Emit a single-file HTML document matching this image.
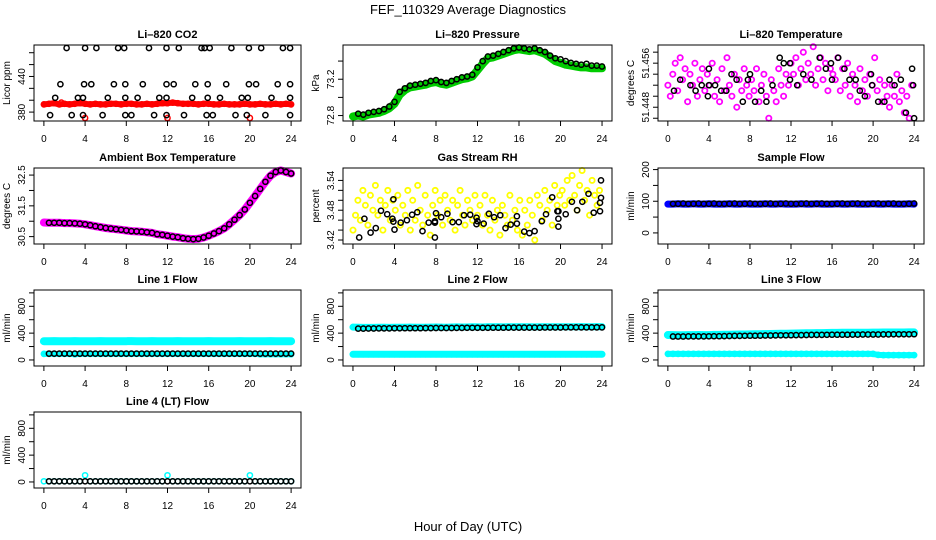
<!DOCTYPE html>
<html><head><meta charset="utf-8"><style>
html,body{margin:0;padding:0;background:#fff;}
svg{display:block;font-family:"Liberation Sans",sans-serif;}
</style></head><body>
<svg id="chart" width="936" height="540" viewBox="0 0 936 540" xmlns="http://www.w3.org/2000/svg">
<rect width="936" height="540" fill="#fff"/>
<text x="468" y="14" text-anchor="middle" font-size="13">FEF_110329  Average Diagnostics</text>
<text x="468" y="531" text-anchor="middle" font-size="13">Hour of Day (UTC)</text>
</svg>
<script>
// ---- data ----
const xTicks = [0,4,8,12,16,20,24];
const co2Red = [393,394,395,393,394,393,394,395,394,393,394,393,393,394,394,393,394,394,393,393,394,393,394,395,395,396,395,394,394,394,393,394,394,393,393,394,393,393,393,394,393,393,394,393,393,394,393,394,393];
const co2RedOutT = [1.7,4,12,20];
const co2RedOutV = [396,370,370,370];
const co2BlackT = [2.2,4.0,5.1,7.2,7.8,10.2,11.9,13.1,15.3,15.6,16.1,18.2,19.9,21.1,23.2,23.9, 1.6,3.9,4.6,6.8,7.9,9.6,11.9,12.6,14.7,15.9,17.7,19.9,20.6,22.7,23.9, 1.1,3.3,3.8,6.2,7.9,9.1,11.2,11.9,14.4,15.9,17.1,19.2,19.8,22.1,23.9, 0.6,2.7,3.8,5.7,7.9,8.5,10.7,11.9,13.6,15.8,16.4,18.6,19.7,21.5,23.9];
const co2BlackV = [488,488,488,488,488,488,488,488,488,488,488,488,488,488,488,488, 427,427,427,427,427,427,427,427,427,427,427,427,427,427,427, 404,404,404,404,404,404,404,404,404,404,404,404,404,404,404, 375,375,375,375,375,375,375,375,375,375,375,375,375,375,375];
const co2Ticks = [380,400,420,440,460,480];
const co2Labels = ["380","","","440","",""];

const presGreen = [72.79,72.80,72.79,72.81,72.82,72.83,72.85,72.88,72.93,73.03,73.08,73.11,73.12,73.13,73.14,73.16,73.17,73.15,73.14,73.16,73.18,73.20,73.21,73.23,73.30,73.37,73.43,73.44,73.46,73.48,73.50,73.52,73.53,73.52,73.51,73.52,73.50,73.48,73.44,73.40,73.38,73.36,73.35,73.34,73.33,73.33,73.32,73.32,73.32];
const presBlack = [72.82,72.81,72.83,72.84,72.85,72.87,72.90,72.95,73.06,73.10,73.13,73.14,73.15,73.16,73.18,73.19,73.17,73.16,73.18,73.20,73.22,73.23,73.25,73.33,73.40,73.45,73.46,73.48,73.50,73.52,73.54,73.55,73.54,73.53,73.54,73.52,73.50,73.46,73.43,73.42,73.40,73.38,73.37,73.36,73.37,73.35,73.35,73.34];
const presTicks = [72.8,73.0,73.2,73.4];
const presLabels = ["72.8","","73.2",""];

const tempMagenta = [51.452,51.450,51.454,51.456,51.451,51.457,51.453,51.455,51.449,51.454,51.452,51.456,51.450,51.453,51.455,51.451,51.454,
51.452,51.456,51.450,51.453,51.449,51.455,51.451,51.457,51.452,51.450,51.454,51.448,51.453,51.451,51.455,51.452,51.450,
51.453,51.451,51.455,51.449,51.452,51.454,51.450,51.446,51.453,51.451,51.449,51.455,51.452,51.450,51.454,51.452,51.456,
51.454,51.457,51.452,51.455,51.458,51.453,51.456,51.454,51.459,51.452,51.455,51.457,51.453,51.456,51.451,51.455,51.454,
51.453,51.457,51.451,51.455,51.452,51.456,51.450,51.454,51.452,51.449,51.455,51.451,51.453,51.450,51.454,51.452,
51.457,51.451,51.453,51.449,51.452,51.450,51.448,51.452,51.450,51.454,51.449,51.451,51.447,51.450,51.446,51.452];
const tempBlackT = [0.6,1.2,2.2,2.7,3.3,3.9,4,4,4.6,5.2,5.7,6.2,6.7,7.3,7.8,8,8.5,9.1,9.6,10.2,10.9,11.3,11.9,11.9,12.6,13.2,14,14.8,15.4,15.9,16,16.6,17.2,17.7,18.3,18.7,19.2,19.8,19.9,20.5,21.1,21.6,22.1,22.7,23.2,23.8,23.9,24];
const tempBlackV = [51.451,51.453,51.452,51.451,51.452,51.450,51.455,51.452,51.452,51.451,51.451,51.454,51.453,51.449,51.453,51.454,51.449,51.451,51.449,51.452,51.457,51.456,51.456,51.453,51.452,51.454,51.453,51.457,51.455,51.456,51.453,51.457,51.455,51.453,51.453,51.451,51.450,51.454,51.452,51.449,51.449,51.453,51.452,51.453,51.447,51.455,51.452,51.446];
const tempTicks = [51.446,51.448,51.450,51.452,51.454,51.456,51.458];
const tempLabels = ["","51.448","","","","51.456",""];

const ambMagenta = [30.96,30.95,30.95,30.95,30.94,30.94,30.93,30.92,30.9,30.87,30.84,30.81,30.78,30.76,30.74,30.72,30.7,30.68,30.67,30.66,30.64,30.62,30.58,30.56,30.53,30.5,30.48,30.45,30.43,30.42,30.43,30.47,30.53,30.6,30.68,30.77,30.9,31.05,31.2,31.38,31.6,31.82,32.05,32.28,32.48,32.6,32.65,32.6,32.55];
const ambBlack = [30.95,30.95,30.95,30.94,30.94,30.93,30.92,30.9,30.87,30.84,30.81,30.78,30.76,30.74,30.72,30.7,30.68,30.67,30.66,30.64,30.62,30.58,30.56,30.53,30.5,30.48,30.45,30.43,30.42,30.43,30.47,30.53,30.6,30.68,30.77,30.9,31.05,31.2,31.38,31.6,31.82,32.05,32.28,32.48,32.6,32.65,32.6,32.55];
const ambTicks = [30.5,31.0,31.5,32.0,32.5];
const ambLabels = ["30.5","","31.5","","32.5"];

const rhYellow = [3.44,3.47,3.50,3.46,3.52,3.49,3.45,3.51,3.48,3.53,3.47,3.50,3.44,3.49,3.52,3.46,3.50,
3.48,3.51,3.45,3.49,3.47,3.52,3.44,3.50,3.46,3.53,3.48,3.45,3.51,3.47,3.43,3.49,3.52,
3.47,3.50,3.45,3.51,3.48,3.46,3.50,3.44,3.49,3.52,3.47,3.45,3.50,3.48,3.46,3.51,3.47,
3.49,3.45,3.51,3.47,3.44,3.50,3.46,3.48,3.43,3.49,3.47,3.45,3.51,3.46,3.48,3.44,3.50,
3.43,3.48,3.45,3.50,3.47,3.42,3.51,3.49,3.46,3.52,3.48,3.50,3.45,3.53,3.49,3.51,
3.52,3.49,3.54,3.50,3.55,3.51,3.48,3.53,3.56,3.50,3.52,3.47,3.54,3.51,3.49,3.52];
const rhBlackT = [0.6,1.1,1.7,2.2,2.7,3.3,3.8,3.9,3.9,4,4.6,5.2,5.7,6.2,6.7,7.3,7.9,7.9,8,7.9,8.5,9.1,9.6,10.2,10.7,11.3,11.9,11.9,12,12.6,13.1,13.6,14.2,14.7,15.2,15.8,15.8,16.5,17,17.5,18.2,18.6,19.2,19.7,19.8,19.8,19.8,20.5,21.1,21.6,22.1,22.7,23.2,23.8,23.8,23.9,23.9];
const rhBlackV = [3.425,3.463,3.435,3.444,3.479,3.472,3.463,3.502,3.457,3.441,3.455,3.460,3.471,3.476,3.438,3.455,3.458,3.455,3.474,3.425,3.466,3.473,3.456,3.456,3.470,3.471,3.465,3.452,3.458,3.453,3.473,3.466,3.470,3.444,3.451,3.468,3.453,3.437,3.434,3.438,3.458,3.472,3.506,3.478,3.478,3.463,3.447,3.472,3.497,3.480,3.497,3.513,3.475,3.478,3.495,3.505,3.540];
const rhTicks = [3.42,3.44,3.46,3.48,3.50,3.52,3.54];
const rhLabels = ["3.42","","","3.48","","","3.54"];

const sampleBlue = [91,91,92,91,91,92,91,91,92,91,91,91,92,91,91,92,91,91,91,92,91,91,92,91,91,91,92,91,91,92,91,91,91,92,91,91,92,91,91,91,92,91,91,92,91,91,91,92,91];
const sampleBlack = [92,92,93,92,92,93,92,92,93,92,92,92,93,92,92,93,92,92,92,93,92,92,93,92,92,92,93,92,92,93,92,92,92,93,92,92,93,92,92,92,93,92,92,93,92,92,92,93];
const sampleTicks = [0,50,100,150,200];
const sampleLabels = ["0","","100","","200"];

const flowTicks = [0,200,400,600,800,1000];
const flowLabels = ["0","","400","","800",""];
const line1CyanHigh = [280,280,281,280,279,280,281,280,280,279,280,281,280,280,280,279,280,281,280,280,280,281,280,279,280,280,281,280,280,279,280,280,281,280,280,280,279,280,281,280,280,280,279,280,281,280,280,280,280];
const line1CyanLow = [90,90,90,90,90,90,85,90,90,90,90,90,90,90,90,90,90,90,90,90,90,90,90,90,90,90,90,90,90,90,90,90,90,90,90,90,90,90,90,90,90,90,85,85,85,85,85,85,85];
const line1Black = [95,95,95,95,95,95,95,95,95,95,95,95,95,95,95,95,95,95,95,95,95,95,95,95,95,95,95,95,95,95,95,95,95,95,95,95,95,95,95,95,95,95,95,95,95,95,95,95];
const line2CyanHigh = [490,488,486,485,486,487,488,486,487,488,489,490,488,487,489,490,491,490,489,492,493,491,492,494,493,492,494,495,494,493,495,494,496,495,494,493,495,496,494,495,496,495,494,496,497,496,495,497,496];
const line2CyanLow = [85,85,85,85,85,85,85,85,85,85,85,85,85,85,85,85,85,85,85,85,85,85,85,85,85,85,85,85,85,85,85,85,85,85,85,85,85,85,85,85,85,85,85,85,85,85,85,85,85];
const line2Black = [468,468,469,469,470,470,471,472,472,473,473,474,474,475,475,476,476,477,477,478,478,479,479,480,480,480,481,481,481,482,482,482,483,483,483,483,484,484,484,484,485,485,485,485,486,486,486,486];
const line3CyanHigh = [372,370,368,369,370,371,372,370,371,373,374,375,376,378,379,380,381,383,384,386,387,389,390,392,393,395,396,398,399,400,401,402,403,404,405,405,406,406,407,407,408,408,409,409,410,410,410,411,411];
const line3CyanLow = [90,90,90,90,90,90,90,90,90,90,90,90,90,90,90,90,90,90,90,90,90,90,90,90,90,90,90,90,90,90,90,90,90,90,90,90,90,90,90,90,90,75,72,72,72,72,72,72,72];
const line3Black = [350,350,350,351,351,352,352,353,354,355,356,357,358,359,360,361,362,363,364,365,366,367,368,369,370,371,372,373,373,374,375,376,376,377,377,378,378,379,379,380,380,381,381,382,382,383,383,384];
const line4Cyan = [10,10,10,10,10,10,10,10,100,10,10,10,10,10,10,10,10,10,10,10,10,10,10,10,100,10,10,10,10,10,10,10,10,10,10,10,10,10,10,10,100,10,10,10,10,10,10,10,10];
const line4Black = [10,10,10,10,10,10,10,10,10,10,10,10,10,10,10,10,10,10,10,10,10,10,10,10,10,10,10,10,10,10,10,10,10,10,10,10,10,10,10,10,10,10,10,10,10,10,10,10];

// ---- rendering ----
const NS = "http://www.w3.org/2000/svg";
const svg = document.getElementById('chart');
function mk(tag, attrs, parent){ const e=document.createElementNS(NS,tag); for(const k in attrs) e.setAttribute(k,attrs[k]); (parent||svg).appendChild(e); return e; }
const cols = [{l:34,r:301},{l:343,r:612},{l:658,r:924}];
const rows = [{t:45,b:121},{t:168,b:244},{t:290,b:366},{t:412,b:488}];
function bandT(n){ const a=[]; for(let i=0;i<n;i++) a.push(i*0.5); return a; }
function blkT(n){ const a=[]; for(let i=0;i<n;i++) a.push(0.5+i*0.5); return a; }
function cloudT(n){ const a=[]; for(let i=0;i<n;i++) a.push(i*0.24); return a; }

function panel(name, title, ylab, col, row, ymin, ymax, yTicks, yLabels, series){
  const c=cols[col], r=rows[row];
  const g=mk('g',{});
  
  
  const xs=t=>c.l+(t+0.96)/(25.92)*(c.r-c.l);
  const ys=v=>r.b-(v-ymin)/(ymax-ymin)*(r.b-r.t);
  const tt=mk('text',{x:(c.l+c.r)/2,y:r.t-7,'text-anchor':'middle','font-size':11,'font-weight':'bold'},g);
  tt.textContent=title;
  
  
  series.forEach(s=>{
    const sg=mk('g',{},g);
    
    
    if(s.band){
      const pts=s.t.map((t,i)=>xs(t).toFixed(1)+','+ys(s.v[i]).toFixed(1)).join(' ');
      mk('polyline',{points:pts,fill:'none',stroke:s.color,'stroke-width':s.band,'stroke-linejoin':'round','stroke-linecap':'round'},sg);
    }
    s.t.forEach((t,i)=>{
      const cc=mk('circle',{cx:xs(t).toFixed(1),cy:ys(s.v[i]).toFixed(1),r:s.r||2.6,fill:'none',stroke:s.color,'stroke-width':s.sw||1.5},sg);
      
      
    });
  });
  const box=mk('rect',{x:c.l,y:r.t,width:c.r-c.l,height:r.b-r.t,fill:'none',stroke:'#000','stroke-width':1},g);
  
  
  mk('line',{x1:xs(0),x2:xs(24),y1:r.b,y2:r.b,stroke:'#000'},g);
  xTicks.forEach(t=>{
    mk('line',{x1:xs(t),x2:xs(t),y1:r.b,y2:r.b+5,stroke:'#000'},g);
    const tx=mk('text',{x:xs(t),y:r.b+21,'text-anchor':'middle','font-size':10},g);
    tx.textContent=t;
    
    
  });
  mk('line',{x1:c.l,x2:c.l,y1:ys(yTicks[0]),y2:ys(yTicks[yTicks.length-1]),stroke:'#000'},g);
  yTicks.forEach((v,i)=>{
    const y=ys(v);
    mk('line',{x1:c.l-5,x2:c.l,y1:y,y2:y,stroke:'#000'},g);
    if(yLabels[i]){
      const tx=mk('text',{x:0,y:0,'text-anchor':'middle','font-size':10,transform:`translate(${c.l-9},${y}) rotate(-90)`},g);
      tx.textContent=yLabels[i];
      
      
    }
  });
  const yl=mk('text',{x:0,y:0,'text-anchor':'middle','font-size':10,transform:`translate(${c.l-24},${(r.t+r.b)/2}) rotate(-90)`},g);
  yl.textContent=ylab;
  
  
}

panel('co2','Li\u2013820 CO2','Licor ppm',0,0,365,493,co2Ticks,co2Labels,[
  {name:'red-series',t:bandT(co2Red.length),v:co2Red,color:'#ff0000',band:6},
  {name:'red-outliers',t:co2RedOutT,v:co2RedOutV,color:'#ff0000'},
  {name:'black-series',t:co2BlackT,v:co2BlackV,color:'#000'}]);
panel('pressure','Li\u2013820 Pressure','kPa',1,0,72.74,73.577,presTicks,presLabels,[
  {name:'green-series',t:bandT(presGreen.length),v:presGreen,color:'#00cc00',band:8},
  {name:'black-series',t:blkT(presBlack.length),v:presBlack,color:'#000'}]);
panel('li820-temp','Li\u2013820 Temperature','degrees C',2,0,51.4455,51.4593,tempTicks,tempLabels,[
  {name:'magenta-series',t:cloudT(tempMagenta.length),v:tempMagenta,color:'#ff00ff',sw:1.8},
  {name:'black-series',t:tempBlackT,v:tempBlackV,color:'#000'}]);
panel('ambient-temp','Ambient Box Temperature','degrees C',0,1,30.26,32.73,ambTicks,ambLabels,[
  {name:'magenta-series',t:bandT(ambMagenta.length),v:ambMagenta,color:'#ff00ff',band:8},
  {name:'black-series',t:blkT(ambBlack.length),v:ambBlack,color:'#000'}]);
panel('rh','Gas Stream RH','percent',1,1,3.412,3.565,rhTicks,rhLabels,[
  {name:'yellow-series',t:cloudT(rhYellow.length),v:rhYellow,color:'#ffff00',sw:1.8},
  {name:'black-series',t:rhBlackT,v:rhBlackV,color:'#000'}]);
panel('sample-flow','Sample Flow','ml/min',2,1,-35,205,sampleTicks,sampleLabels,[
  {name:'blue-series',t:bandT(sampleBlue.length),v:sampleBlue,color:'#0000ff',band:7},
  {name:'black-series',t:blkT(sampleBlack.length),v:sampleBlack,color:'#000'}]);
panel('line1','Line 1 Flow','ml/min',0,2,-90,1043,flowTicks,flowLabels,[
  {name:'cyan-high',t:bandT(line1CyanHigh.length),v:line1CyanHigh,color:'#00ffff',band:8},
  {name:'cyan-low',t:bandT(line1CyanLow.length),v:line1CyanLow,color:'#00ffff',band:6},
  {name:'black-series',t:blkT(line1Black.length),v:line1Black,color:'#000'}]);
panel('line2','Line 2 Flow','ml/min',1,2,-90,1043,flowTicks,flowLabels,[
  {name:'cyan-high',t:bandT(line2CyanHigh.length),v:line2CyanHigh,color:'#00ffff',band:7},
  {name:'cyan-low',t:bandT(line2CyanLow.length),v:line2CyanLow,color:'#00ffff',band:7},
  {name:'black-series',t:blkT(line2Black.length),v:line2Black,color:'#000'}]);
panel('line3','Line 3 Flow','ml/min',2,2,-90,1043,flowTicks,flowLabels,[
  {name:'cyan-high',t:bandT(line3CyanHigh.length),v:line3CyanHigh,color:'#00ffff',band:8},
  {name:'cyan-low',t:bandT(line3CyanLow.length),v:line3CyanLow,color:'#00ffff',band:6},
  {name:'black-series',t:blkT(line3Black.length),v:line3Black,color:'#000'}]);
panel('line4','Line 4 (LT) Flow','ml/min',0,3,-90,1043,flowTicks,flowLabels,[
  {name:'cyan-series',t:bandT(line4Cyan.length),v:line4Cyan,color:'#00ffff'},
  {name:'black-series',t:blkT(line4Black.length),v:line4Black,color:'#000'}]);
</script>
</body></html>
